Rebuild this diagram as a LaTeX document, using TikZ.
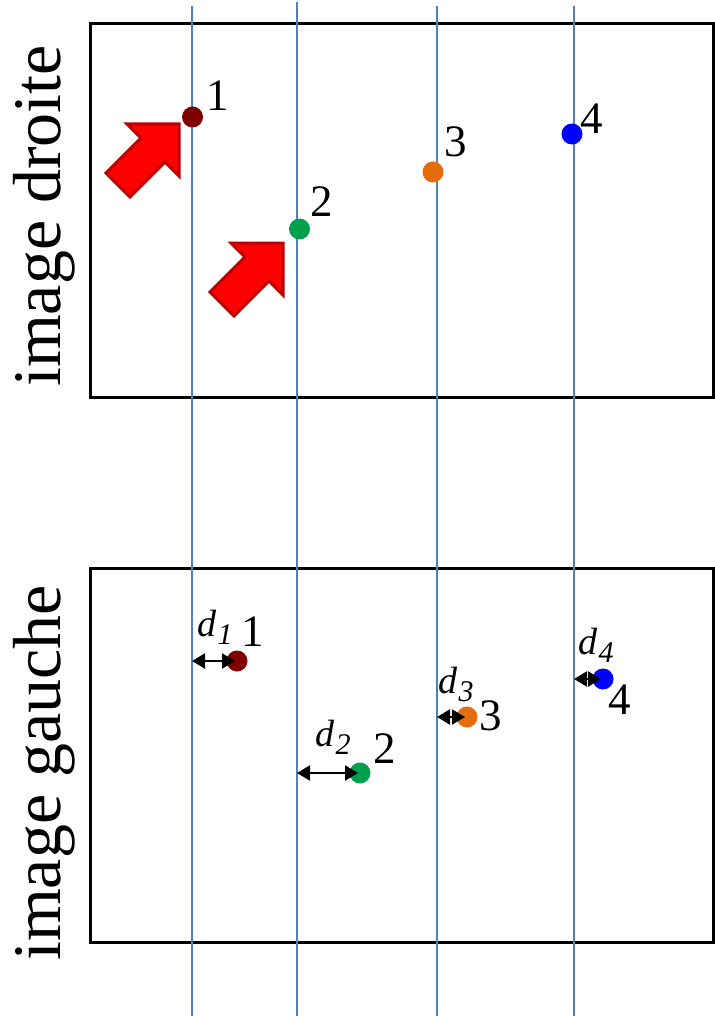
\documentclass[tikz,border=0pt]{standalone}
\usepackage{fontspec}
\setmainfont{Liberation Serif}
\usetikzlibrary{arrows.meta}
\definecolor{vblue}{HTML}{4F81BD}
\definecolor{cone}{HTML}{7F0000}
\definecolor{ctwo}{HTML}{00A04F}
\definecolor{cthree}{HTML}{E46C0A}
\definecolor{cfour}{HTML}{0000FF}
\definecolor{arrowedge}{HTML}{C00000}
\newcommand\dlab[1]{\fontsize{38}{38}\selectfont\itshape d\kern1pt\raisebox{-8pt}{\fontsize{30}{30}\selectfont #1}}
\tikzset{
  frame/.style={draw=black, line width=3pt},
  vline/.style={draw=vblue, line width=1.6pt},
  dot/.style={circle, inner sep=0pt, minimum size=21pt},
  num/.style={font=\fontsize{45}{45}\selectfont, inner sep=0pt},
  dl/.style={inner sep=0pt},
  darr/.style={{Triangle[length=13pt,width=15pt]}-{Triangle[length=13pt,width=15pt]}, line width=2.2pt, black},
  side/.style={rotate=90, font=\fontsize{68}{68}\selectfont, inner sep=0pt},
  blockarrow/.style={fill=red, draw=arrowedge, line width=3pt, line join=miter}
}
\begin{document}
\begin{tikzpicture}[x=1pt,y=-1pt]
\useasboundingbox (0,0) rectangle (714,1016);
% frames
\draw[frame] (90,24) rectangle (713,397);
\draw[frame] (90,568) rectangle (713,942);
% side labels
\node[side] (lt) at (44,216) {image droite};
\node[side] (lb) at (44,773) {image gauche};
% vertical lines
\coordinate (v1t) at (192,6);  \coordinate (v1b) at (192,1016);
\coordinate (v2t) at (297,2);  \coordinate (v2b) at (297,1016);
\coordinate (v3t) at (437,6);  \coordinate (v3b) at (437,1016);
\coordinate (v4t) at (574,6);  \coordinate (v4b) at (574,1016);
\draw[vline] (v1t) -- (v1b);
\draw[vline] (v2t) -- (v2b);
\draw[vline] (v3t) -- (v3b);
\draw[vline] (v4t) -- (v4b);
% top dots
\node[dot, fill=cone]   (t1) at (192.5,117) {};
\node[dot, fill=ctwo]   (t2) at (299.5,229) {};
\node[dot, fill=cthree] (t3) at (433,172) {};
\node[dot, fill=cfour]  (t4) at (572,134) {};
\node[num] (nt1) at (218,96) {1};
\node[num] (nt2) at (322,202) {2};
\node[num] (nt3) at (456,142) {3};
\node[num] (nt4) at (592,119) {4};
% red block arrows
\foreach \tx/\ty in {179/124, 283/243}{
  \draw[blockarrow] (\tx,\ty) -- ++(0,52) -- ++(-14,-14) -- ++(-35,35) -- ++(-24,-24) -- ++(35,-35) -- ++(-14,-14) -- cycle;
}
% bottom dots
\node[dot, fill=cone]   (b1) at (237,661) {};
\node[dot, fill=ctwo]   (b2) at (360,773) {};
\node[dot, fill=cthree] (b3) at (467,717) {};
\node[dot, fill=cfour]  (b4) at (603,679) {};
\node[num] (nb1) at (253,632) {1};
\node[num] (nb2) at (385,749) {2};
\node[num] (nb3) at (491,716) {3};
\node[num] (nb4) at (620,700) {4};
% d labels
\node[dl] (d1) at (215,627) {\dlab{1}};
\node[dl] (d2) at (333,737) {\dlab{2}};
\node[dl] (d3) at (456,684) {\dlab{3}};
\node[dl] (d4) at (596,645) {\dlab{4}};
% distance arrows
\coordinate (a1) at (192,661);
\coordinate (a2) at (297,773);
\coordinate (a3) at (437,717);
\coordinate (a4) at (574,679);
\draw[darr] (a1) -- ([xshift=-2pt]b1.center);
\draw[darr] (a2) -- ([xshift=-2pt]b2.center);
\draw[darr] (a3) -- ([xshift=-2pt]b3.center);
\draw[darr] (a4) -- ([xshift=-2pt]b4.center);
\end{tikzpicture}
\end{document}
